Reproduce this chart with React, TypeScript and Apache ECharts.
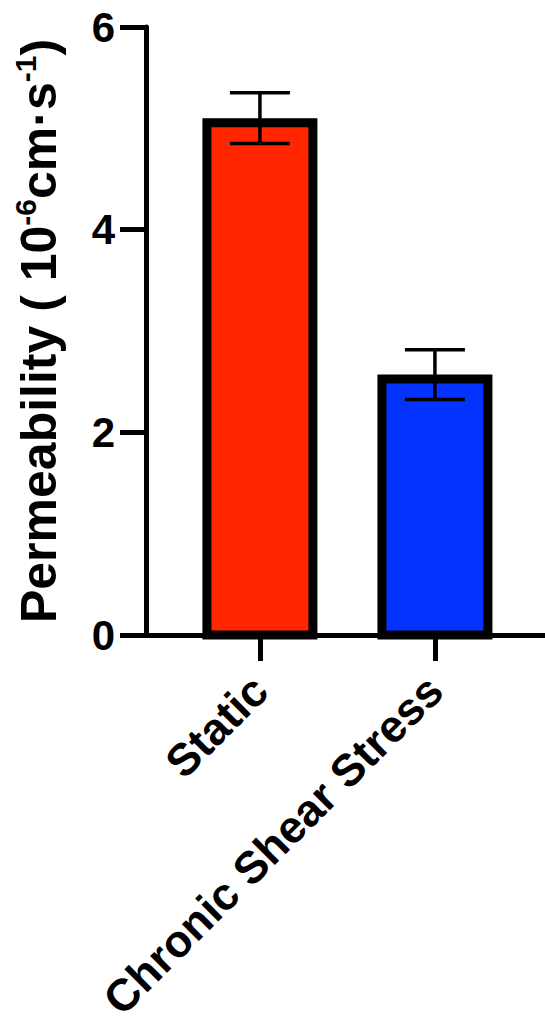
import React, { useEffect, useRef } from "react";
import * as echarts from "echarts";

const categories = ["Static", "Chronic Shear Stress"];
const means = [5.1, 2.57];
const errors = [0.25, 0.245];
const barColors = ["#FF2600", "#0433FF"];
const yTickValues = [0, 2, 4, 6];

const FONT = 'Arial, "Liberation Sans", Helvetica, sans-serif';

export default function App() {
  const ref = useRef<HTMLDivElement>(null);
  useEffect(() => {
    if (!ref.current) return;
    const chart = echarts.init(ref.current, undefined, { renderer: "svg" });
    const catIdx = categories.map((_, i) => i);
    const barData = catIdx.map((i) => [i, means[i], errors[i]]);
    const outerHalf = 57.5;
    const border = 9;
    const capHalf = 30;
    const errLw = 3.5;

    chart.setOption({
      animation: false,
      backgroundColor: "#ffffff",
      grid: {
        left: 146,
        right: 0,
        top: 27,
        bottom: 399,
        containLabel: false,
        outerBoundsMode: "none",
      },
      xAxis: {
        type: "value",
        min: -0.651,
        max: 1.629,
        splitLine: { show: false },
        axisLine: { show: true, onZero: false, lineStyle: { color: "#000", width: 5 } },
        axisTick: {
          show: true,
          customValues: catIdx,
          length: 26,
          lineStyle: { color: "#000", width: 5 },
        },
        axisLabel: {
          show: true,
          customValues: catIdx,
          formatter: (v: number) => categories[Math.round(v)] ?? "",
          rotate: 45,
          margin: 48,
          color: "#000",
          fontSize: 45,
          fontWeight: "bold",
          fontFamily: FONT,
        },
      },
      yAxis: {
        type: "value",
        min: yTickValues[0],
        max: yTickValues[yTickValues.length - 1],
        interval: 2,
        splitLine: { show: false },
        axisLine: { show: true, onZero: false, lineStyle: { color: "#000", width: 5 } },
        axisTick: { show: true, length: 26, lineStyle: { color: "#000", width: 5 } },
        axisLabel: {
          margin: 31,
          color: "#000",
          fontSize: 42,
          fontWeight: "bold",
          fontFamily: FONT,
        },
        name: "{m|Permeability ( 10}{s|-6}{m|cm·s}{s|-1}{m|)}",
        nameLocation: "middle",
        nameGap: 78,
        nameRotate: 90,
        nameTextStyle: {
          color: "#000",
          fontFamily: FONT,
          fontWeight: "bold",
          fontSize: 50,
          rich: {
            m: { fontSize: 50, fontWeight: "bold", fontFamily: FONT, color: "#000", lineHeight: 58 },
            s: {
              fontSize: 30,
              fontWeight: "bold",
              fontFamily: FONT,
              color: "#000",
              lineHeight: 30,
              verticalAlign: "top",
            },
          },
        },
      },
      series: [
        {
          type: "custom",
          clip: false,
          z: 2,
          data: barData,
          renderItem: (params: any, api: any) => {
            const x = api.value(0);
            const y = api.value(1);
            const top = api.coord([x, y]);
            const base = api.coord([x, 0]);
            const idx = params.dataIndex;
            return {
              type: "rect",
              shape: {
                x: top[0] - outerHalf + border / 2,
                y: top[1] + border / 2,
                width: outerHalf * 2 - border,
                height: base[1] - top[1] - border / 2,
              },
              style: { fill: barColors[idx], stroke: "#000", lineWidth: border },
            };
          },
        },
        {
          type: "custom",
          clip: false,
          z: 3,
          data: barData,
          renderItem: (params: any, api: any) => {
            const x = api.value(0);
            const y = api.value(1);
            const e = api.value(2);
            const hi = api.coord([x, y + e]);
            const lo = api.coord([x, y - e]);
            const st = { stroke: "#000", lineWidth: errLw };
            return {
              type: "group",
              children: [
                { type: "line", shape: { x1: hi[0], y1: hi[1], x2: lo[0], y2: lo[1] }, style: st },
                { type: "line", shape: { x1: hi[0] - capHalf, y1: hi[1], x2: hi[0] + capHalf, y2: hi[1] }, style: st },
                { type: "line", shape: { x1: lo[0] - capHalf, y1: lo[1], x2: lo[0] + capHalf, y2: lo[1] }, style: st },
              ],
            };
          },
        },
      ],
    });
    return () => chart.dispose();
  }, []);
  return (
    <div
      ref={ref}
      style={{ position: "absolute", left: 0, top: 0, width: 545, height: 1034, background: "#fff" }}
    />
  );
}
